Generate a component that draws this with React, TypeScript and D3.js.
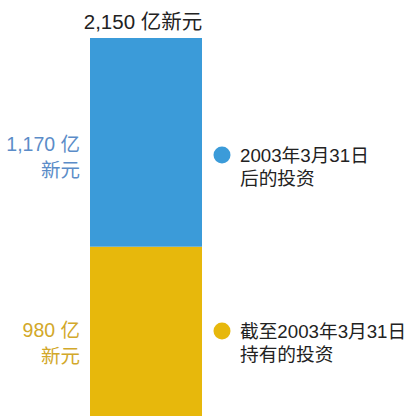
import React from 'react';
import * as d3 from 'd3';

// segments stacked bottom-up
const segments = ['held', 'after'];
const segmentValues = [980, 1170];
const segmentColors = ['#e7b80c', '#3b9bd9'];
const labelColors = ['#d2a82a', '#5b8cc8'];
const valueLabels = ['980 亿', '1,170 亿'];
const unitLabel = '新元';
const totalLabel = '2,150 亿新元';
const legendLines = [
  ['截至2003年3月31日', '持有的投资'],
  ['2003年3月31日', '后的投资'],
];

const W = 406;
const H = 416;
const FONT = '"Liberation Sans", "Noto Sans CJK SC", Arial, sans-serif';

export default function App() {
  const total = d3.sum(segmentValues);
  const y = d3.scaleLinear().domain([0, total]).range([421.5, 38]);
  const x = d3.scaleBand().domain(['bar']).range([90, 202]).padding(0);

  const stacked = segmentValues.map((v, i) => {
    const start = d3.sum(segmentValues.slice(0, i));
    return { key: segments[i], y0: start, y1: start + v };
  });

  const bx = x('bar') as number;
  const bw = x.bandwidth();
  const legendY = [331, 155];

  return (
    <svg width={W} height={H} style={{ position: 'absolute', left: 0, top: 0, background: '#fff' }} fontFamily={FONT}>
      {stacked.map((s, i) => (
        <rect key={s.key} x={bx} y={y(s.y1)} width={bw} height={y(s.y0) - y(s.y1)} fill={segmentColors[i]} />
      ))}
      <text x={bx + bw / 2 - 3} y={29} textAnchor="middle" fontSize={20.5} fill="#222">{totalLabel}</text>
      {stacked.map((s, i) => {
        const mid = (y(s.y0) + y(s.y1)) / 2;
        const base = i === 0 ? mid + 3 : mid + 9;
        return (
          <g key={s.key + '-lbl'} fill={labelColors[i]} fontSize={19.5} textAnchor="end">
            <text x={80} y={base}>{valueLabels[i]}</text>
            <text x={80} y={base + 26}>{unitLabel}</text>
          </g>
        );
      })}
      {stacked.map((s, i) => (
        <g key={s.key + '-leg'}>
          <circle cx={222} cy={legendY[i]} r={8.5} fill={segmentColors[i]} />
          <text x={240} y={legendY[i] + 6.5} fontSize={18.7} fill="#222">{legendLines[i][0]}</text>
          <text x={240} y={legendY[i] + 30} fontSize={18.7} fill="#222">{legendLines[i][1]}</text>
        </g>
      ))}
    </svg>
  );
}
